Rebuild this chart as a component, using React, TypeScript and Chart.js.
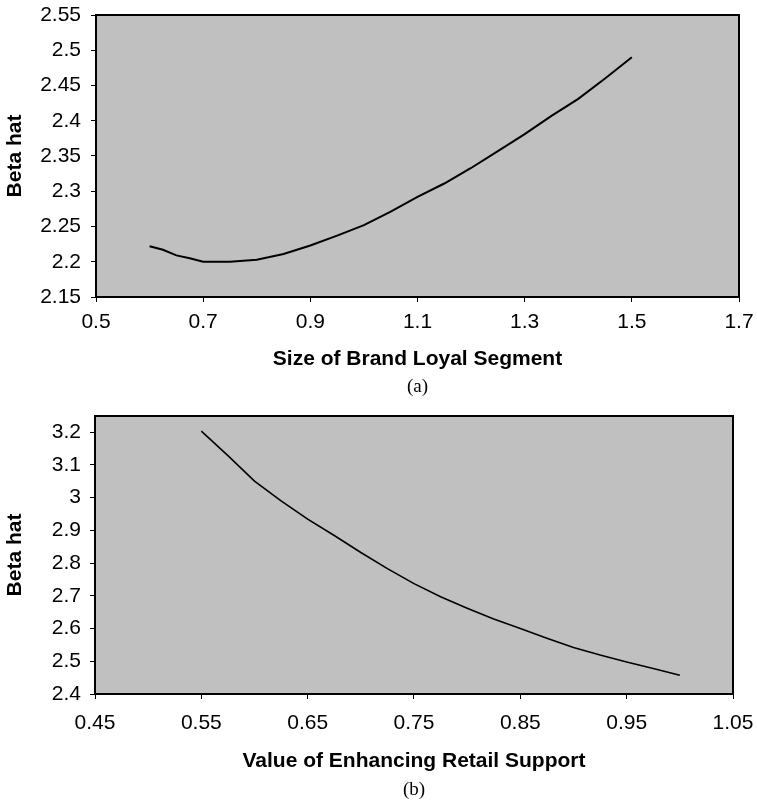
import React, { useEffect, useRef } from "react";
import { Chart, registerables } from "chart.js";

Chart.register(...registerables);

// ---- Data: chart (a) ----
const brandLoyalSize = [0.6, 0.625, 0.65, 0.675, 0.7, 0.75, 0.8, 0.85, 0.9, 0.95, 1.0, 1.05, 1.1, 1.15, 1.2, 1.25, 1.3, 1.35, 1.4, 1.45, 1.5];
const betaHatA = [2.222, 2.217, 2.209, 2.205, 2.2, 2.2, 2.203, 2.211, 2.223, 2.237, 2.252, 2.271, 2.292, 2.311, 2.333, 2.357, 2.381, 2.407, 2.431, 2.46, 2.49];
const xTicksA = [0.5, 0.7, 0.9, 1.1, 1.3, 1.5, 1.7];
const yTicksA = [2.15, 2.2, 2.25, 2.3, 2.35, 2.4, 2.45, 2.5, 2.55];

// ---- Data: chart (b) ----
const retailSupport = [0.55, 0.575, 0.6, 0.625, 0.65, 0.675, 0.7, 0.725, 0.75, 0.775, 0.8, 0.825, 0.85, 0.875, 0.9, 0.925, 0.95, 0.975, 1.0];
const betaHatB = [3.203, 3.128, 3.05, 2.99, 2.934, 2.884, 2.832, 2.783, 2.737, 2.697, 2.662, 2.629, 2.6, 2.57, 2.542, 2.519, 2.498, 2.478, 2.457];
const xTicksB = [0.45, 0.55, 0.65, 0.75, 0.85, 0.95, 1.05];
const yTicksB = [2.4, 2.5, 2.6, 2.7, 2.8, 2.9, 3.0, 3.1, 3.2];

const fmt = (v: number) => String(Number(v.toFixed(4)));

interface Cfg {
  xs: number[];
  ys: number[];
  xTicks: number[];
  yTicks: number[];
  xMin: number;
  xMax: number;
  yMin: number;
  yMax: number;
  xTitle: string;
  caption: string;
  height: number;
  area: { left: number; top: number; right: number; bottom: number };
  lineWidth: number;
  xLabelPad: number;
  yLabelPad: number;
  xTitlePad: number;
  captionY: number;
}

const zeroPad = (s: any) => {
  s.paddingTop = 0;
  s.paddingBottom = 0;
  s.paddingLeft = 0;
  s.paddingRight = 0;
};

function makeChart(canvas: HTMLCanvasElement, c: Cfg) {
  const W = 757;
  const plotPlugin = {
    id: "plotFrame",
    beforeDraw(chart: any) {
      const { ctx, chartArea: a } = chart;
      ctx.save();
      ctx.fillStyle = "#c0c0c0";
      ctx.fillRect(a.left, a.top, a.right - a.left, a.bottom - a.top);
      ctx.restore();
    },
    afterDatasetsDraw(chart: any) {
      const { ctx, chartArea: a } = chart;
      ctx.save();
      ctx.strokeStyle = "#000";
      ctx.lineWidth = 2;
      ctx.strokeRect(a.left, a.top, a.right - a.left, a.bottom - a.top);
      ctx.restore();
    },
    afterDraw(chart: any) {
      const { ctx, chartArea: a } = chart;
      ctx.save();
      ctx.fillStyle = "#000";
      ctx.font = "19px 'Liberation Serif', 'Times New Roman', serif";
      ctx.textAlign = "center";
      ctx.textBaseline = "middle";
      ctx.fillText(c.caption, (a.left + a.right) / 2, c.captionY);
      ctx.restore();
    },
  };

  return new Chart(canvas, {
    type: "line",
    data: {
      datasets: [
        {
          data: c.xs.map((x, i) => ({ x, y: c.ys[i] })),
          borderColor: "#000",
          borderWidth: c.lineWidth,
          pointRadius: 0,
          tension: 0,
          fill: false,
        },
      ],
    },
    options: {
      animation: false,
      responsive: false,
      maintainAspectRatio: false,
      events: [],
      layout: {
        padding: { left: 0, top: c.area.top, right: W - c.area.right, bottom: 0 },
      },
      plugins: {
        legend: { display: false },
        tooltip: { enabled: false },
      },
      scales: {
        x: {
          type: "linear",
          min: c.xMin,
          max: c.xMax,
          afterBuildTicks: (s: any) => {
            s.ticks = c.xTicks.map((v) => ({ value: v }));
          },
          afterFit: (s: any) => {
            s.height = c.height - c.area.bottom;
            zeroPad(s);
          },
          grid: {
            display: true,
            drawOnChartArea: false,
            drawTicks: true,
            tickLength: 5,
            tickWidth: 1,
            tickColor: "#000",
          },
          border: { display: false },
          ticks: {
            color: "#000",
            padding: c.xLabelPad,
            maxRotation: 0,
            autoSkip: false,
            font: { family: "'Liberation Sans', Arial, sans-serif", size: 21 },
            callback: (v: any) => fmt(Number(v)),
          },
          title: {
            display: true,
            text: c.xTitle,
            color: "#000",
            padding: { top: 0, bottom: c.xTitlePad },
            font: { family: "'Liberation Sans', Arial, sans-serif", size: 21, weight: "bold" },
          },
        },
        y: {
          type: "linear",
          min: c.yMin,
          max: c.yMax,
          afterBuildTicks: (s: any) => {
            s.ticks = c.yTicks.map((v) => ({ value: v }));
          },
          afterFit: (s: any) => {
            s.width = c.area.left;
            zeroPad(s);
          },
          grid: {
            display: true,
            drawOnChartArea: false,
            drawTicks: true,
            tickLength: 5,
            tickWidth: 1,
            tickColor: "#000",
          },
          border: { display: false },
          ticks: {
            color: "#000",
            padding: c.yLabelPad,
            autoSkip: false,
            font: { family: "'Liberation Sans', Arial, sans-serif", size: 21 },
            callback: (v: any) => fmt(Number(v)),
          },
          title: {
            display: true,
            text: "Beta hat",
            color: "#000",
            padding: { top: 3, bottom: 0 },
            font: { family: "'Liberation Sans', Arial, sans-serif", size: 21, weight: "bold" },
          },
        },
      },
    },
    plugins: [plotPlugin],
  } as any);
}

const cfgA: Cfg = {
  xs: brandLoyalSize,
  ys: betaHatA,
  xTicks: xTicksA,
  yTicks: yTicksA,
  xMin: 0.5,
  xMax: 1.7,
  yMin: 2.15,
  yMax: 2.55,
  xTitle: "Size of Brand Loyal Segment",
  caption: "(a)",
  height: 400,
  area: { left: 96, top: 15, right: 739, bottom: 297 },
  lineWidth: 2,
  xLabelPad: 8,
  yLabelPad: 10,
  xTitlePad: 28,
  captionY: 387,
};

const cfgB: Cfg = {
  xs: retailSupport,
  ys: betaHatB,
  xTicks: xTicksB,
  yTicks: yTicksB,
  xMin: 0.45,
  xMax: 1.05,
  yMin: 2.4,
  yMax: 3.249,
  xTitle: "Value of Enhancing Retail Support",
  caption: "(b)",
  height: 408,
  area: { left: 95, top: 16, right: 733, bottom: 294 },
  lineWidth: 1.6,
  xLabelPad: 12,
  yLabelPad: 9,
  xTitlePad: 34,
  captionY: 390,
};

function Panel({ cfg, top }: { cfg: Cfg; top: number }) {
  const ref = useRef<HTMLCanvasElement | null>(null);
  useEffect(() => {
    if (!ref.current) return;
    const ch = makeChart(ref.current, cfg);
    return () => ch.destroy();
  }, [cfg]);
  return (
    <canvas
      ref={ref}
      width={757}
      height={cfg.height}
      style={{ position: "absolute", left: 0, top, width: 757, height: cfg.height, display: "block" }}
    />
  );
}

export default function App() {
  return (
    <div style={{ position: "absolute", left: 0, top: 0, width: 757, height: 808, background: "#fff" }}>
      <Panel cfg={cfgA} top={0} />
      <Panel cfg={cfgB} top={400} />
    </div>
  );
}
